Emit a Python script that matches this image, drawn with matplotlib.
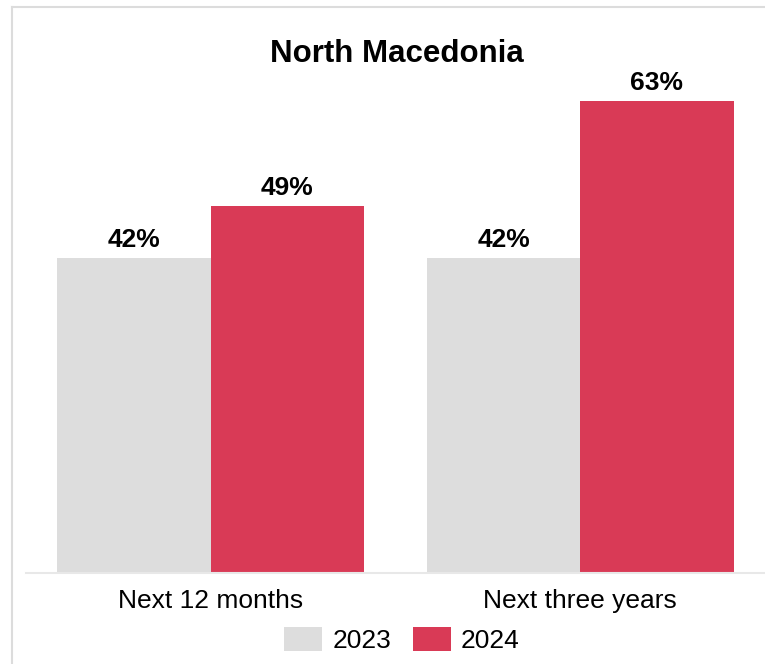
import matplotlib
matplotlib.use("Agg")
import matplotlib.pyplot as plt
from matplotlib.lines import Line2D
import numpy as np

plt.rcParams['font.family'] = ['Liberation Sans', 'DejaVu Sans']

title = "North Macedonia"
categories = ["Next 12 months", "Next three years"]
years = ["2023", "2024"]
values_2023 = [42, 42]
values_2024 = [49, 63]

colours = {"2023": "#dddddd", "2024": "#d93a56"}

W, H = 765, 664
fig = plt.figure(figsize=(W / 100, H / 100), dpi=100)

# axes placed in pixel terms: baseline at y=573, spans x=26..765
base_y = 573
px_per_pct = 7.5
ymax = 70
ax_left, ax_right = 26, 765
ax = fig.add_axes([ax_left / W, (H - base_y) / H,
                   (ax_right - ax_left) / W, ymax * px_per_pct / H])

x = np.arange(len(categories))
width = 0.415
bars_a = ax.bar(x - width / 2, values_2023, width, color=colours["2023"], label=years[0])
bars_b = ax.bar(x + width / 2, values_2024, width, color=colours["2024"], label=years[1])

for bars, vals in ((bars_a, values_2023), (bars_b, values_2024)):
    for b, v in zip(bars, vals):
        ax.annotate(f"{v}%", (b.get_x() + b.get_width() / 2, v),
                    xytext=(0, 7.9), textcoords="offset points",
                    ha="center", va="baseline", fontsize=19, fontweight="bold")

ax.set_xlim(-0.5, 1.5)
ax.set_ylim(0, ymax)
ax.set_yticks([])
ax.set_xticks(x)
ax.set_xticklabels(categories, fontsize=19)
ax.tick_params(axis="x", length=0, pad=11.5)
for side in ("top", "left", "right"):
    ax.spines[side].set_visible(False)
ax.spines["bottom"].set_color("#e8e8e8")
ax.spines["bottom"].set_linewidth(1.5)

fig.text(397 / W, 1 - 54 / H, title, ha="center", va="center",
         fontsize=22.5, fontweight="bold")

fig.legend(loc="center", bbox_to_anchor=(402 / W, (H - 640) / H), ncol=2,
           frameon=False, fontsize=19, handlelength=1.44, handleheight=1.06,
           handletextpad=0.39, columnspacing=0.8, borderpad=0)

# outer frame (top and left edges visible)
fig.add_artist(Line2D([11.5 / W, 11.5 / W], [0, 1 - 6.5 / H],
                      transform=fig.transFigure, color="#dcdcdc", lw=1.5))
fig.add_artist(Line2D([11.5 / W, 1], [1 - 6.5 / H, 1 - 6.5 / H],
                      transform=fig.transFigure, color="#dcdcdc", lw=1.5))

fig.savefig("out.png", dpi=100)
